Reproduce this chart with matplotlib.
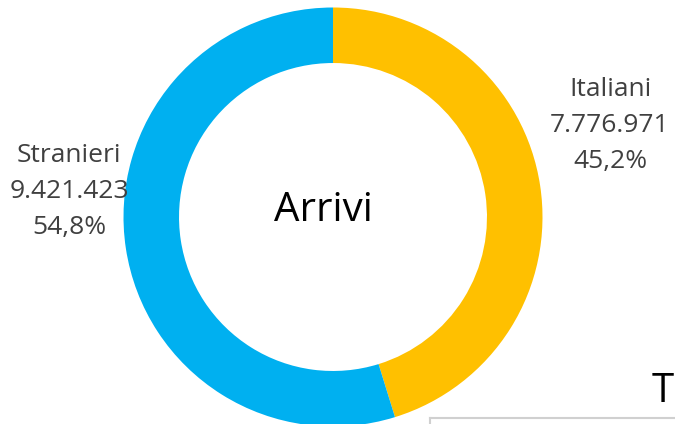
import matplotlib.pyplot as plt

categorie = ["Italiani", "Stranieri"]
arrivi = [7776971, 9421423]
colori = ["#FFC000", "#00B0F0"]

W, H = 675, 424
plt.rcParams['font.family'] = ['Open Sans', 'DejaVu Sans']

fig = plt.figure(figsize=(W / 100, H / 100), dpi=100)
ax = fig.add_axes([0, 0, 1, 1])

# donut, drawn in pixel-like data units (y grows upward)
r = 209.5
ax.pie(arrivi, colors=colori, startangle=90, counterclock=False,
       radius=r, center=(333, H - 217), frame=True,
       wedgeprops=dict(width=r * 0.265, edgecolor='none', linewidth=0))
ax.set_xlim(0, W)
ax.set_ylim(0, H)
ax.set_aspect('equal')
ax.axis('off')

def fmt_num(v):
    return f"{v:,}".replace(",", ".")

tot = sum(arrivi)
# label anchor: (center x, first baseline y) in pixels from top-left
pos_etichette = {"Italiani": (610, 96), "Stranieri": (69, 162)}
for nome, v in zip(categorie, arrivi):
    x, y0 = pos_etichette[nome]
    righe = [nome, fmt_num(v), f"{v / tot * 100:.1f}%".replace(".", ",")]
    for i, riga in enumerate(righe):
        ax.text(x, H - (y0 + i * 36), riga, ha='center', va='baseline',
                fontsize=19, color='#404040')

ax.text(323, H - 221, "Arrivi", ha='center', va='baseline', fontsize=29, color='black')

# bits of the next chart peeking in at the bottom right
ax.text(652, H - 402, "T", ha='left', va='baseline', fontsize=29, color='black')
ax.plot([429.5, W], [H - 417.5, H - 417.5], color='#D0D0D0', lw=1.5, clip_on=False)
ax.plot([429.5, 429.5], [H - 417.5, 0], color='#D0D0D0', lw=1.5, clip_on=False)

fig.savefig("out.png", dpi=100)
